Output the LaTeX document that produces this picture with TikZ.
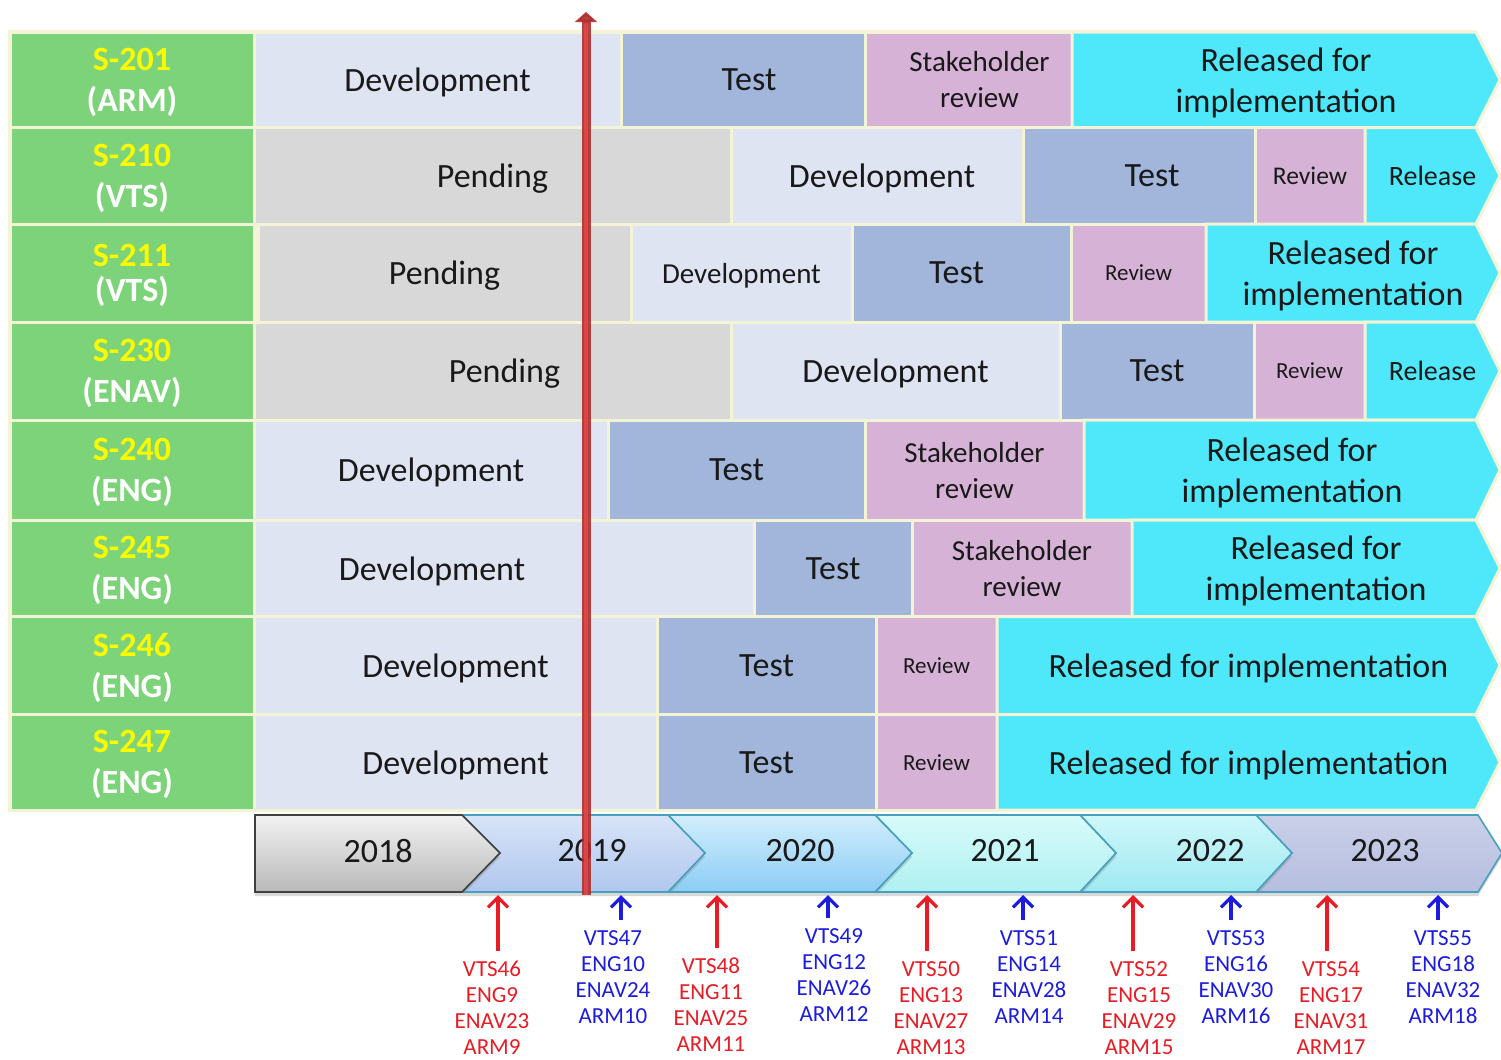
\documentclass[tikz,border=0pt]{standalone}
\usepackage{fontspec}
\setmainfont{Carlito}
\usetikzlibrary{arrows.meta,shadows}

\definecolor{rim}{RGB}{243,243,214}
\definecolor{tagfill}{RGB}{125,211,122}
\definecolor{tagyel}{RGB}{250,250,0}
\definecolor{devfill}{RGB}{222,228,242}
\definecolor{pendfill}{RGB}{216,216,216}
\definecolor{testfill}{RGB}{162,181,219}
\definecolor{revfill}{RGB}{214,178,214}
\definecolor{relfill}{RGB}{78,232,250}
\definecolor{ink}{RGB}{25,25,25}
\definecolor{nowred}{RGB}{175,45,45}
\definecolor{nowlight}{RGB}{222,72,72}
\definecolor{msred}{RGB}{232,28,36}
\definecolor{msblue}{RGB}{28,28,222}
\definecolor{tlrim}{RGB}{70,160,190}
\definecolor{y18top}{RGB}{242,242,242}\definecolor{y18bot}{RGB}{185,185,185}
\definecolor{y19top}{RGB}{216,228,248}\definecolor{y19bot}{RGB}{176,199,238}
\definecolor{y20top}{RGB}{210,238,252}\definecolor{y20bot}{RGB}{140,205,245}
\definecolor{y21top}{RGB}{216,251,250}\definecolor{y21bot}{RGB}{176,240,242}
\definecolor{y22top}{RGB}{206,247,250}\definecolor{y22bot}{RGB}{160,233,242}
\definecolor{y23top}{RGB}{202,208,232}\definecolor{y23bot}{RGB}{182,190,224}

\newcommand\bigfont{\fontsize{17}{20.5}\selectfont}
\newcommand\midfont{\fontsize{14.5}{18}\selectfont}
\newcommand\smallfont{\fontsize{11.5}{13}\selectfont}

% one box of the chart: style, name, left, right, top, bottom, text
\newcommand\cell[7]{%
  \node[#1,minimum width={(#4-#3)*0.5pt},minimum height={(#6-#5)*0.5pt}] (#2)
    at ({(#3+#4)/2},{(#5+#6)/2}) {#7};}
% last box of a row: chevron pointing right
\newcommand\relcell[5]{%
  \draw[rel] (#1,#2) -- (1476,#2) -- (1500,{(#2+#3)/2}) -- (1476,#3) -- (#1,#3) -- cycle;
  \node[cell,draw=none] (#4) at ({(#1+1500)/2},{(#2+#3)/2}) {#5};}

\begin{document}
\begin{tikzpicture}[x=0.5pt,y=-0.5pt]
  \tikzset{
    cell/.style={draw=rim,line width=1.5pt,inner sep=0pt,align=center,text=ink,font=\bigfont,text depth=0pt},
    tag/.style={cell,fill=tagfill,text=white},
    dev/.style={cell,fill=devfill},
    pend/.style={cell,fill=pendfill},
    test/.style={cell,fill=testfill},
    rev/.style={cell,fill=revfill},
    rel/.style={draw=rim,line width=1.5pt,fill=relfill},
    yr/.style={line width=0.8pt,drop shadow={shadow xshift=0pt,shadow yshift=-2pt,opacity=0.3}},
    yeartxt/.style={font=\bigfont,text=ink},
    mslab/.style={font=\smallfont,align=center,inner sep=0pt},
    msarr/.style={line width=1.6pt,-{Straight Barb[length=5pt,width=10pt]},shorten <=5pt},
  }
  \useasboundingbox (0,0) rectangle (1501,1060);
  \fill[rim] (8,30) rectangle (1476,812);

  % standards column
  \foreach \ya/\yb/\id/\grp/\sk in {32/127.5/201/ARM/20.5,127.5/224/210/VTS/20.5,224/322/211/VTS/17.5,
      322/420/230/ENAV/20.5,420/520/240/ENG/20.5,520/616.5/245/ENG/20.5,616.5/714.5/246/ENG/20.5,
      714.5/810/247/ENG/20.5}{
    \cell{tag,font=\bfseries\fontsize{17}{\sk}\selectfont}{s\id}{10}{254}{\ya}{\yb}{{\color{tagyel}S-\id}\\(\grp)}
  }

  % S-201
  \cell{dev}{a1}{254}{621}{32}{127.5}{Development}
  \cell{test}{a2}{621}{865}{32}{127.5}{\hspace*{6pt}Test}
  \cell{rev,font=\midfont}{a3}{865}{1072}{32}{127.5}{\hspace*{11pt}Stakeholder\\\hspace*{11pt}review}
  \relcell{1072}{32}{127.5}{a4}{Released for\\implementation}
  % S-210
  \cell{pend}{b1}{254}{731}{127.5}{224}{Pending}
  \cell{dev}{b2}{731}{1023}{127.5}{224}{\hspace*{5pt}Development}
  \cell{test}{b3}{1023}{1255}{127.5}{224}{\hspace*{13pt}Test}
  \cell{rev,font=\fontsize{12.75}{15}\selectfont}{b4}{1255}{1365}{127.5}{224}{Review}
  \relcell{1365}{127.5}{224}{b5}{\fontsize{14}{16}\selectfont Release}
  % S-211
  \cell{pend}{c1}{258}{631}{224}{322}{Pending}
  \cell{dev,font=\midfont}{c2}{631}{852}{224}{322}{Development}
  \cell{test}{c3}{852}{1071}{224}{322}{Test\hspace*{5pt}}
  \cell{rev,font=\smallfont}{c4}{1071}{1206}{224}{322}{Review}
  \relcell{1206}{224}{322}{c5}{Released for\\implementation}
  % S-230
  \cell{pend}{d1}{254}{731}{322}{420}{\hspace*{12pt}Pending}
  \cell{dev}{d2}{731}{1060}{322}{420}{Development}
  \cell{test}{d3}{1060}{1254}{322}{420}{Test}
  \cell{rev,font=\smallfont}{d4}{1254}{1365}{322}{420}{Review}
  \relcell{1365}{322}{420}{d5}{\fontsize{14}{16}\selectfont Release}
  % S-240
  \cell{dev}{e1}{254}{608}{420}{520}{Development}
  \cell{test}{e2}{608}{865}{420}{520}{Test}
  \cell{rev,font=\midfont}{e3}{865}{1084}{420}{520}{Stakeholder\\review}
  \relcell{1084}{420}{520}{e4}{Released for\\implementation}
  % S-245
  \cell{dev}{f1}{254}{754}{520}{616.5}{Development\hspace*{72pt}}
  \cell{test}{f2}{754}{912}{520}{616.5}{Test}
  \cell{rev,font=\midfont}{f3}{912}{1132}{520}{616.5}{Stakeholder\\review}
  \relcell{1132}{520}{616.5}{f4}{Released for\\implementation}
  % S-246
  \cell{dev}{g1}{254}{657}{616.5}{714.5}{Development}
  \cell{test}{g2}{657}{876}{616.5}{714.5}{Test}
  \cell{rev,font=\smallfont}{g3}{876}{997}{616.5}{714.5}{Review}
  \relcell{997}{616.5}{714.5}{g4}{Released for implementation}
  % S-247
  \cell{dev}{h1}{254}{657}{714.5}{810}{Development}
  \cell{test}{h2}{657}{876}{714.5}{810}{Test}
  \cell{rev,font=\smallfont}{h3}{876}{997}{714.5}{810}{Review}
  \relcell{997}{714.5}{810}{h4}{Released for implementation}

  % years
  \path[yr,draw=tlrim,top color=y23top,bottom color=y23bot] (1256,815) -- (1478,815) -- (1502,853) -- (1478,892) -- (1256,892) -- (1292,853) -- cycle;
  \path[yr,draw=tlrim,top color=y22top,bottom color=y22bot] (1080,815) -- (1256,815) -- (1292,853) -- (1256,892) -- (1080,892) -- (1116,853) -- cycle;
  \path[yr,draw=tlrim,top color=y21top,bottom color=y21bot] (875,815) -- (1080,815) -- (1116,853) -- (1080,892) -- (875,892) -- (912,853) -- cycle;
  \path[yr,draw=tlrim,top color=y20top,bottom color=y20bot] (668,815) -- (875,815) -- (912,853) -- (875,892) -- (668,892) -- (705,853) -- cycle;
  \path[yr,draw=tlrim,top color=y19top,bottom color=y19bot] (462,815) -- (668,815) -- (705,853) -- (668,892) -- (462,892) -- (500,853) -- cycle;
  \path[yr,draw=black!75,top color=y18top,bottom color=y18bot] (255,815) -- (462,815) -- (500,853) -- (462,892) -- (255,892) -- cycle;
  \node[yeartxt] (y18) at (378,851) {2018};
  \node[yeartxt] (y19) at (592,851) {2019};
  \node[yeartxt] (y20) at (800,851) {2020};
  \node[yeartxt] (y21) at (1005,851) {2021};
  \node[yeartxt] (y22) at (1210,851) {2022};
  \node[yeartxt] (y23) at (1385,851) {2023};

  % today
  \coordinate (now0) at (586,895);
  \coordinate (now1) at (586,12);
  \draw[nowred,line width=4.5pt,opacity=0.9,-{Triangle[length=5pt,width=11pt]}] (now0) -- (now1);
  \draw[nowlight,line width=2pt,opacity=0.9] (now0) -- ([yshift=-6pt]now1);

  % meetings
  \foreach \n/\ax/\lx/\ly/\c/\txt in {
      46/498/492/1008/msred/{VTS46\\ENG9\\ENAV23\\ARM9},
      47/621/613/977/msblue/{VTS47\\ENG10\\ENAV24\\ARM10},
      48/717/711/1005/msred/{VTS48\\ENG11\\ENAV25\\ARM11},
      49/828/834/975/msblue/{VTS49\\ENG12\\ENAV26\\ARM12},
      50/927/931/1008/msred/{VTS50\\ENG13\\ENAV27\\ARM13},
      51/1023/1029/977/msblue/{VTS51\\ENG14\\ENAV28\\ARM14},
      52/1133/1139/1008/msred/{VTS52\\ENG15\\ENAV29\\ARM15},
      53/1231/1236/977/msblue/{VTS53\\ENG16\\ENAV30\\ARM16},
      54/1327/1331/1008/msred/{VTS54\\ENG17\\ENAV31\\ARM17},
      55/1438/1443/977/msblue/{VTS55\\ENG18\\ENAV32\\ARM18}}{
    \coordinate (a\n) at (\ax,895);
    \node[mslab,text=\c] (m\n) at (\lx,\ly) {\txt};
    \draw[msarr,draw=\c] (a\n |- m\n.north) -- (a\n);
  }
\end{tikzpicture}
\end{document}
